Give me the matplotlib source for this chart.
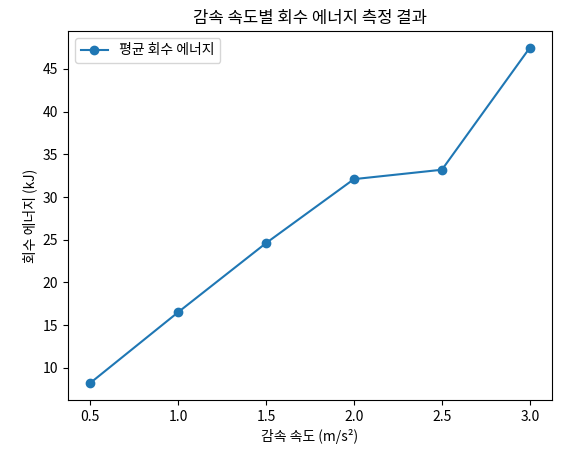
import matplotlib
matplotlib.use("Agg")
import matplotlib.pyplot as plt

plt.rcParams['font.family'] = ['Noto Sans CJK KR', 'DejaVu Sans']
plt.rcParams['axes.unicode_minus'] = False

speeds = [0.5, 1.0, 1.5, 2.0, 2.5, 3.0]
energy = [8.2, 16.5, 24.6, 32.1, 33.2, 47.5]

fig, ax = plt.subplots(figsize=(5.62, 4.54), dpi=100)
ax.plot(speeds, energy, marker='o', label='평균 회수 에너지')
ax.set_title('감속 속도별 회수 에너지 측정 결과')
ax.set_xlabel('감속 속도 (m/s²)')
ax.set_ylabel('회수 에너지 (kJ)')
ax.legend(loc='upper left')
fig.subplots_adjust(left=0.121, right=0.982, top=0.932, bottom=0.119)
fig.savefig('out.png', dpi=100)
